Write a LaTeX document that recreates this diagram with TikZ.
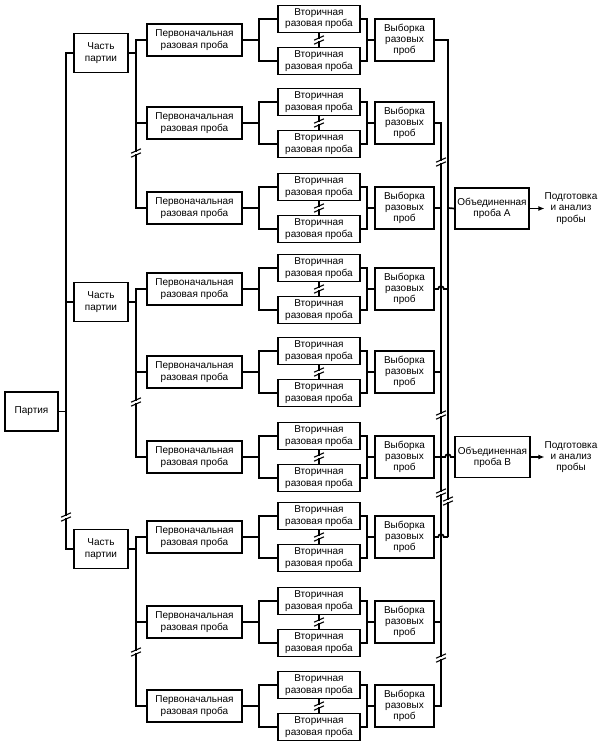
\documentclass[tikz,border=0pt]{standalone}
\usepackage{fontspec}
\setmainfont{Liberation Sans}
\usetikzlibrary{arrows.meta,calc}
\begin{document}
\begin{tikzpicture}[x=1pt,y=-1pt,
  box/.style={draw,line width=1.7pt,inner sep=0pt,align=center,
    font=\fontsize{10}{11.2}\selectfont},
  ln/.style={line width=1.7pt},
  txt/.style={align=center,inner sep=0pt,font=\fontsize{10}{11.2}\selectfont},
  brk/.pic={
    \fill[white] (-1.6,-1.1) rectangle (1.6,1.1);
    \draw[line width=1.1pt] (-5,0.2) -- (5,-4.2);
    \draw[line width=1.1pt] (-5,4.2) -- (5,-0.2);
  }]
\useasboundingbox (0,0) rectangle (605,746);
\fill[white] (0,0) rectangle (605,746);

% Партия
\node[box,minimum width=53pt,minimum height=39pt] (L) at (31.5,411.5) {Партия};
% Части партии
\foreach \k/\y in {1/53,2/302,3/549}{
  \node[box,minimum width=54pt,minimum height=39pt] (c\k) at (101,\y) {Часть\\партии};
}
\coordinate (m) at (66,411.5);
\draw[ln] (c1.west) -| (m) |- (c3.west);
\draw[ln] (c2.west) -- (c2.west -| m);
\draw[ln] (L.east) -- (m);

% groups
\foreach \i/\y in {1/40,2/123,3/208,4/289,5/372,6/457,7/537,8/622,9/706}{
  \node[box,minimum width=95pt,minimum height=32pt] (p\i) at (194.5,\y) {Первоначальная\\разовая проба};
  \node[box,minimum width=82pt,minimum height=27pt] (va\i) at (319,\y-21) {Вторичная\\разовая проба};
  \node[box,minimum width=82pt,minimum height=27pt] (vb\i) at (319,\y+21) {Вторичная\\разовая проба};
  \node[box,minimum width=59pt,minimum height=42pt] (s\i) at (404.5,\y) {Выборка\\разовых\\проб};
  \coordinate (jl\i) at (259,\y);
  \coordinate (jr\i) at (367,\y);
  \coordinate (lb\i) at (441,\y);
  \coordinate (rb\i) at (448,\y);
  \draw[ln] (p\i.east) -- (jl\i);
  \draw[ln] (va\i.west) -| (jl\i) |- (vb\i.west);
  \draw[ln] (va\i.east) -| (jr\i) |- (vb\i.east);
  \draw[ln] (jr\i) -- (s\i.west);
  \draw[ln] (va\i.south) -- (vb\i.north);
  \pic at ($(va\i.south)!0.5!(vb\i.north)$) {brk};
}

% part verticals
\foreach \k/\a/\b/\c in {1/1/2/3,2/4/5/6,3/7/8/9}{
  \coordinate (k\k) at (136,0 |- c\k);
  \draw[ln] (p\a.west) -| (k\k) |- (p\c.west);
  \draw[ln] (p\b.west) -- (p\b.west -| k\k);
  \draw[ln] (c\k.east) -- (k\k);
}

% Объединенные пробы
\node[box,minimum width=74pt,minimum height=41pt] (A) at (492,208.5) {Объединенная\\проба А};
\node[box,minimum width=75pt,minimum height=41pt] (B) at (492.5,457) {Объединенная\\проба В};
\node[txt] (tA) at (571,208.5) {Подготовка\\и анализ\\пробы};
\node[txt] (tB) at (571,457) {Подготовка\\и анализ\\пробы};
\draw[ln,-{Latex[length=6pt,width=5pt]}] (A.east) -- (tA.west);
\draw[ln,-{Latex[length=6pt,width=5pt]}] (B.east) -- (tB.west);

% right bus (A)
\draw[ln] (s1.east) -- (rb1) -- (rb7);
\draw[ln] (s4.east) -- ($(lb4)+(-2.8,0)$) arc[start angle=180,end angle=360,radius=2.8] -- (rb4);
\draw[ln] (s7.east) -- ($(lb7)+(-2.8,0)$) arc[start angle=180,end angle=360,radius=2.8] -- (rb7);
\draw[ln] (rb3) -- (A.west);

% left bus (B)
\draw[ln] (s2.east) -- (lb2) -- (lb9) -- (s9.east);
\foreach \i in {3,5,6,8}{ \draw[ln] (s\i.east) -- (lb\i); }
\draw[ln] (lb6) -- ($(rb6)+(-2.8,0)$) arc[start angle=180,end angle=360,radius=2.8] -- (B.west);

% break marks
\pic at (66,517) {brk};
\pic at (136,153) {brk};
\pic at (136,402) {brk};
\pic at (136,652) {brk};
\pic at (441,162) {brk};
\pic at (441,415) {brk};
\pic at (441,493) {brk};
\pic at (448,501) {brk};
\pic at (441,658) {brk};
\end{tikzpicture}
\end{document}
